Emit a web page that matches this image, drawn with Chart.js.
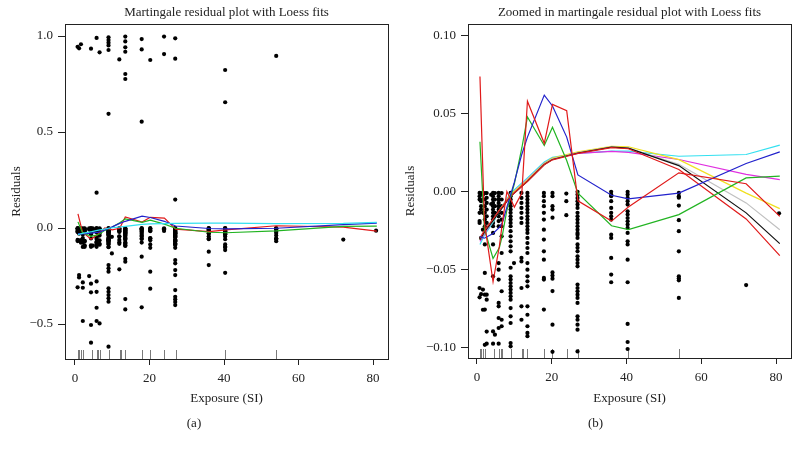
<!DOCTYPE html>
<html>
<head>
<meta charset="utf-8">
<script src="https://cdn.jsdelivr.net/npm/chart.js@4.4.1/dist/chart.umd.min.js"></script>
<style>
html, body { margin: 0; padding: 0; background: #fff; }
#wrap { position: relative; width: 799px; height: 449px; }
canvas { position: absolute; top: 0; }
</style>
</head>
<body>
<div id="wrap">
  <canvas id="left" width="400" height="449" style="left:0"></canvas>
  <canvas id="right" width="399" height="449" style="left:400px"></canvas>
</div>
<script>
// exposure columns and the martingale residuals observed at each one
const exposure = [0.7, 1.1, 1.6, 2.1, 2.6, 3.8, 4.3, 4.8, 5.8, 6.6, 9.0, 9.9, 11.9, 13.5, 17.9, 20.2, 23.9, 26.9, 35.9, 40.3, 54.0, 72.0, 80.8];
const residuals = [
  [0.944, -0.0009, -0.003, -0.0051, -0.0137, -0.019, -0.0202, -0.062, -0.068, -0.309],
  [0.936, -0.001, -0.0062, -0.0094, -0.0116, -0.0298, -0.066, -0.245, -0.257],
  [0.957, -0.002, -0.005, -0.0137, -0.0245, -0.063, -0.076],
  [-0.001, -0.0051, -0.0094, -0.0137, -0.018, -0.0223, -0.034, -0.0523, -0.0663, -0.0759, -0.0985, -0.283, -0.311, -0.484],
  [-0.001, -0.004, -0.0073, -0.0116, -0.0159, -0.0202, -0.0663, -0.0695, -0.09, -0.0978],
  [-0.002, -0.008, -0.25],
  [0.934, -0.0009, -0.003, -0.0051, -0.0073, -0.0094, -0.0116, -0.0137, -0.0159, -0.018, -0.0202, -0.0223, -0.0266, -0.034, -0.0545, -0.0899, -0.0978, -0.29, -0.335, -0.505, -0.597],
  [-0.001, -0.0051, -0.0094, -0.0137, -0.092],
  [0.99, 0.184, -0.0009, -0.003, -0.0051, -0.0073, -0.0094, -0.0116, -0.0137, -0.0159, -0.019, -0.0223, -0.046, -0.0502, -0.0566, -0.0716, -0.0738, -0.0813, -0.0877, -0.0978, -0.278, -0.332, -0.415, -0.484],
  [0.915, -0.001, -0.0051, -0.0094, -0.0137, -0.018, -0.0223, -0.0288, -0.0395, -0.0641, -0.0824, -0.0866, -0.497],
  [0.993, 0.979, 0.965, 0.951, 0.927, 0.595, -0.0009, -0.003, -0.0051, -0.0073, -0.0094, -0.0116, -0.0137, -0.0159, -0.018, -0.0202, -0.0223, -0.0255, -0.0288, -0.032, -0.0352, -0.0384, -0.049, -0.0545, -0.0566, -0.0588, -0.0609, -0.063, -0.0652, -0.0673, -0.0695, -0.0749, -0.0802, -0.0845, -0.0974, -0.0995, -0.193, -0.21, -0.227, -0.314, -0.332, -0.349, -0.366, -0.384, -0.618],
  [-0.046, -0.132],
  [0.878, -0.0009, -0.0041, -0.0073, -0.0105, -0.0137, -0.017, -0.0202, -0.0427, -0.0449, -0.062, -0.0738, -0.0824, -0.215],
  [0.997, 0.972, 0.941, 0.918, 0.802, 0.776, -0.0009, -0.003, -0.0051, -0.0073, -0.0094, -0.0116, -0.0137, -0.0159, -0.018, -0.0202, -0.0223, -0.0245, -0.0266, -0.0298, -0.0331, -0.0363, -0.0395, -0.046, -0.0502, -0.0545, -0.0577, -0.0609, -0.0738, -0.0792, -0.0866, -0.0909, -0.093, -0.16, -0.175, -0.37, -0.424],
  [0.984, 0.93, 0.554, -0.0009, -0.003, -0.0062, -0.0094, -0.0137, -0.018, -0.0245, -0.0309, -0.0384, -0.0438, -0.0555, -0.0566, -0.0759, -0.149, -0.413],
  [0.875, -0.0009, -0.003, -0.0094, -0.0116, -0.0168, -0.052, -0.054, -0.056, -0.064, -0.0856, -0.103, -0.227, -0.316],
  [0.997, 0.906, -0.0013, -0.0062, -0.0152],
  [0.988, 0.882, 0.148, -0.0002, -0.0019, -0.0041, -0.0062, -0.0084, -0.0105, -0.0137, -0.0159, -0.018, -0.0202, -0.0223, -0.0245, -0.0266, -0.0277, -0.0298, -0.034, -0.0362, -0.0384, -0.0416, -0.0438, -0.046, -0.0481, -0.0598, -0.062, -0.0641, -0.0663, -0.0684, -0.0716, -0.0802, -0.0824, -0.0856, -0.0888, -0.1028, -0.167, -0.184, -0.219, -0.245, -0.323, -0.358, -0.371, -0.385, -0.401],
  [-0.0002, -0.0019, -0.003, -0.0062, -0.0105, -0.0137, -0.0159, -0.018, -0.0277, -0.0298, -0.0427, -0.0534, -0.0583, -0.123, -0.193],
  [0.823, 0.655, -0.0002, -0.0019, -0.0041, -0.0062, -0.0084, -0.0127, -0.0148, -0.017, -0.0191, -0.0212, -0.0234, -0.0266, -0.032, -0.034, -0.0438, -0.0583, -0.0851, -0.0967, -0.1012, -0.115, -0.233],
  [0.896, -0.0009, -0.003, -0.004, -0.009, -0.0184, -0.0255, -0.0384, -0.0545, -0.0558, -0.0571, -0.0684],
  [-0.0601],
  [-0.014]
];

// event times shown as the rug along the bottom
const rug = [0.7, 1.2, 1.6, 2.1, 4.5, 5.9, 6.3, 6.8, 9.0, 12.0, 12.3, 13.5, 18.0, 20.2, 24.0, 27.0, 40.3, 54.0];

// loess fits with a small span (wiggly)
const wigX   = [0.8, 2, 4.3, 6, 6.8, 8, 10, 12, 13.5, 18, 20.2, 24, 27, 36, 40.5, 54, 72, 81];
const wigRed   = [0.074, -0.02, -0.058, -0.035, -0.02, 0.0, -0.01, -0.001, 0.058, 0.031, 0.056, 0.052, -0.006, -0.019, -0.010, 0.012, 0.005, -0.016];
const wigGreen = [0.032, -0.024, -0.043, -0.036, -0.028, -0.012, 0.005, 0.028, 0.048, 0.0296, 0.0414, 0.02, -0.001, -0.022, -0.0245, -0.0148, 0.0088, 0.0099];
const wigBlue  = [-0.029, -0.030, -0.027, -0.023, -0.020, -0.010, 0.006, 0.024, 0.035, 0.062, 0.055, 0.035, 0.0107, -0.0024, -0.0047, -0.001, 0.018, 0.0255];

// loess fits with larger spans (smooth)
const smoothX = [0.8, 2, 4.5, 6, 9, 13.5, 18, 20.2, 27, 36, 40.5, 54, 72, 81];
const smCyan    = [-0.034, -0.028, -0.019, -0.012, -0.001, 0.0088, 0.019, 0.022, 0.0245, 0.026, 0.026, 0.0227, 0.0238, 0.0298];
const smMagenta = [-0.032, -0.027, -0.018, -0.012, -0.002, 0.0078, 0.0182, 0.0214, 0.0245, 0.0258, 0.0252, 0.0206, 0.011, 0.0077];
const smYellow  = [-0.031, -0.026, -0.018, -0.012, -0.002, 0.0075, 0.018, 0.0215, 0.0255, 0.029, 0.0288, 0.0205, -0.001, -0.011];
const smGrey    = [-0.031, -0.026, -0.018, -0.013, -0.003, 0.0068, 0.0176, 0.021, 0.025, 0.0287, 0.028, 0.0175, -0.0073, -0.0245];
const smBlack   = [-0.031, -0.026, -0.018, -0.013, -0.003, 0.0066, 0.0174, 0.0206, 0.0248, 0.0285, 0.0279, 0.0167, -0.0137, -0.0335];
const smRed     = [-0.030, -0.025, -0.017, -0.012, -0.003, 0.0066, 0.0172, 0.0204, 0.0245, 0.0282, 0.0275, 0.0142, -0.0176, -0.0412];

const xTicks = [0, 20, 40, 60, 80];
const yTicksFull = [-0.5, 0, 0.5, 1.0];
const yTicksZoom = [-0.10, -0.05, 0, 0.05, 0.10];

const points = [];
exposure.forEach((x, i) => residuals[i].forEach(y => points.push({x: x, y: y})));

const serif = '"Liberation Serif", "DejaVu Serif", serif';
const ink = '#222';

// rug ticks and the box round the plot
const rugAndFrame = {
  id: 'rugAndFrame',
  beforeDatasetsDraw(chart) {
    const ctx = chart.ctx, a = chart.chartArea, xs = chart.scales.x;
    ctx.save();
    ctx.strokeStyle = '#7a7a7a';
    ctx.lineWidth = 1;
    rug.forEach(v => {
      const px = Math.round(xs.getPixelForValue(v)) + 0.5;
      ctx.beginPath();
      ctx.moveTo(px, a.bottom);
      ctx.lineTo(px, a.bottom - 9);
      ctx.stroke();
    });
    ctx.restore();
  },
  afterDraw(chart) {
    const ctx = chart.ctx, a = chart.chartArea;
    ctx.save();
    ctx.strokeStyle = ink;
    ctx.lineWidth = 1;
    const l = Math.round(a.left) + 0.5, t = Math.round(a.top) + 0.5;
    const r = Math.round(a.right) + 0.5, b = Math.round(a.bottom) + 0.5;
    ctx.strokeRect(l, t, r - l, b - t);
    ctx.restore();
  }
};

function fmt(v, d) {
  return (v < 0 ? '\u2212' : '') + Math.abs(v).toFixed(d);
}

function panel(id, c) {
  const datasets = c.lines.map(l => ({
    type: 'line',
    data: l.x.map((x, i) => ({x: x, y: l.y[i]})),
    borderColor: l.color,
    borderWidth: 1.2,
    pointRadius: 0,
    tension: 0,
    fill: false
  }));
  datasets.push({
    type: 'scatter',
    data: points,
    pointRadius: 2.1,
    backgroundColor: '#000',
    borderWidth: 0
  });

  new Chart(document.getElementById(id), {
    type: 'scatter',
    data: {datasets: datasets},
    plugins: [rugAndFrame],
    options: {
      responsive: false,
      animation: false,
      events: [],
      layout: {padding: {left: 0, right: c.padRight, top: 0, bottom: 0}},
      plugins: {
        legend: {display: false},
        tooltip: {enabled: false},
        title: {
          display: true, text: c.title, color: ink, fullSize: false,
          font: {family: serif, size: 13, weight: 'normal'},
          padding: {top: 5, bottom: 3.4}
        },
        subtitle: {
          display: true, text: c.tag, color: ink, position: 'bottom',
          font: {family: serif, size: 13},
          padding: {top: 8, bottom: 17.2}
        }
      },
      scales: {
        x: {
          type: 'linear', min: c.xMin, max: c.xMax,
          afterBuildTicks: s => { s.ticks = xTicks.map(v => ({value: v})); },
          afterFit: s => { s.height = c.xHeight; },
          ticks: {color: ink, font: {family: serif, size: 13}, padding: 6, maxRotation: 0},
          grid: {drawOnChartArea: false, tickLength: 6, color: ink},
          border: {display: true, color: ink},
          title: {display: true, text: 'Exposure (SI)', color: ink,
                  font: {family: serif, size: 13}, padding: {top: 0, bottom: 1.4}}
        },
        y: {
          type: 'linear', min: c.yMin, max: c.yMax,
          afterBuildTicks: s => { s.ticks = c.yTicks.map(v => ({value: v})); },
          afterFit: s => { s.width = c.yWidth; },
          ticks: {color: ink, font: {family: serif, size: 13}, padding: 5,
                  callback: v => fmt(v, c.dec)},
          grid: {drawOnChartArea: false, tickLength: 7, color: ink},
          border: {display: true, color: ink},
          title: {display: true, text: 'Residuals', color: ink,
                  font: {family: serif, size: 13}, padding: {top: c.yTitlePad, bottom: 0}}
        }
      }
    }
  });
}

panel('left', {
  title: 'Martingale residual plot with Loess fits', tag: '(a)',
  xMin: -2.68, xMax: 84, yMin: -0.682, yMax: 1.0625,
  yTicks: yTicksFull, dec: 1, padRight: 12, yWidth: 65, xHeight: 49.2, yTitlePad: 9.2,
  lines: [
    {x: smoothX, y: smCyan, color: '#33e0f0'},
    {x: wigX, y: wigBlue, color: '#2222cc'},
    {x: wigX, y: wigGreen, color: '#22b422'},
    {x: wigX, y: wigRed, color: '#e01a1a'}
  ]
});

panel('right', {
  title: 'Zoomed in martingale residual plot with Loess fits', tag: '(b)',
  xMin: -2.4, xMax: 84, yMin: -0.107, yMax: 0.1077,
  yTicks: yTicksZoom, dec: 2, padRight: 8, yWidth: 68, xHeight: 50.2, yTitlePad: 3.2,
  lines: [
    {x: wigX, y: wigRed, color: '#e01a1a'},
    {x: wigX, y: wigBlue, color: '#2222cc'},
    {x: wigX, y: wigGreen, color: '#22b422'},
    {x: smoothX, y: smRed, color: '#e01a1a'},
    {x: smoothX, y: smBlack, color: '#111111'},
    {x: smoothX, y: smGrey, color: '#c0c0c0'},
    {x: smoothX, y: smYellow, color: '#f0e020'},
    {x: smoothX, y: smMagenta, color: '#e030e0'},
    {x: smoothX, y: smCyan, color: '#33e0f0'}
  ]
});
</script>
</body>
</html>
